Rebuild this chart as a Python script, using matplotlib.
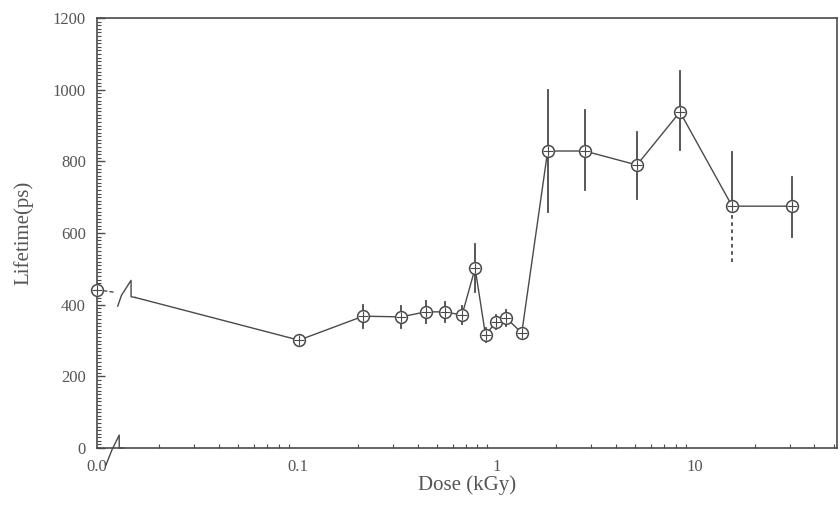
import numpy as np
import matplotlib.pyplot as plt
from matplotlib.ticker import FixedLocator, MultipleLocator, LogLocator, NullFormatter

# data
dose = [0.0, 0.101, 0.213, 0.33, 0.44, 0.55, 0.67, 0.78, 0.88, 0.99, 1.12, 1.34,
        1.81, 2.78, 5.1, 8.4, 15.4, 31.0]
lifetime = [442, 301, 368, 366, 380, 380, 371, 502, 315, 351, 363, 321,
            829, 829, 790, 938, 675, 675]
err_lo = [0, 0, 32, 30, 30, 28, 25, 67, 20, 20, 22, 0,
          170, 110, 95, 106, 156, 86]
err_hi = [0, 0, 32, 30, 30, 28, 25, 67, 20, 20, 22, 0,
          170, 115, 92, 114, 151, 82]
dashed_lower = [False] * 16 + [True, False]

xleft, xright = 0.0097, 52.0
ink = '#4a4a4a'
plt.rcParams['font.family'] = ['Liberation Serif', 'DejaVu Serif']

x = np.array([xleft if d == 0 else d for d in dose])
y = np.array(lifetime)
lo = np.array(err_lo)
hi = np.array(err_hi)

fig = plt.figure(figsize=(8.4, 5.13), dpi=100)
ax = fig.add_axes([0.1155, 0.1267, 0.881, 0.838])
ax.set_xscale('log')
ax.set_xlim(xleft, xright)
ax.set_ylim(0, 1200)

# connecting line, with a break between 0.0 and the rest
tr = ax.transAxes
ax.plot([0.0, 0.025], [0.368, 0.362], color=ink, lw=1.0, ls=(0, (3, 1.5)), transform=tr, clip_on=False)
ax.plot([0.028, 0.033, 0.046, 0.046, 0.052], [0.330, 0.355, 0.39, 0.352, 0.350],
        color=ink, lw=1.0, transform=tr, clip_on=False)
bx, by = ax.transData.inverted().transform(tr.transform((0.052, 0.350)))
ax.plot(np.r_[bx, x[1:]], np.r_[by, y[1:]], color=ink, lw=1.0)

# error bars
for xi, yi, l, h, dsh in zip(x, y, lo, hi, dashed_lower):
    if l == 0 and h == 0:
        continue
    ax.plot([xi, xi], [yi, yi + h], color=ink, lw=1.3)
    ax.plot([xi, xi], [yi - l, yi], color=ink, lw=1.3, ls=(0, (2, 2)) if dsh else '-')

ax.plot(x, y, ls='none', marker='o', ms=8.5, mfc='white', mec=ink, mew=1.1, clip_on=False, zorder=5)
ax.plot(x, y, ls='none', marker='+', ms=7.5, mec=ink, mew=0.8, clip_on=False, zorder=6)

# axis break on the x axis
ax.plot([0.012, 0.020, 0.030, 0.030, 0.036], [-0.04, -0.005, 0.03, 0.0, 0.0],
        color=ink, lw=1.0, transform=tr, clip_on=False)

# ticks
ax.xaxis.set_major_locator(FixedLocator([xleft, 0.1, 1, 10]))
ax.set_xticklabels(['0.0', '0.1', '1', '10'])
ax.xaxis.set_minor_locator(LogLocator(base=10, subs=np.arange(2, 10)))
ax.xaxis.set_minor_formatter(NullFormatter())
ax.yaxis.set_major_locator(MultipleLocator(200))
ax.yaxis.set_minor_locator(MultipleLocator(10))
ax.tick_params(which='both', direction='in', color=ink, labelcolor='#555555', labelsize=12)
ax.tick_params(which='major', length=6, width=1)
ax.tick_params(which='minor', length=3, width=0.8)
ax.tick_params(axis='y', which='major', pad=8)
ax.tick_params(axis='x', which='major', pad=8, length=0)

for s in ax.spines.values():
    s.set_color(ink)
    s.set_linewidth(1.2)

ax.set_xlabel('Dose (kGy)', fontsize=15, color='#555555', labelpad=0)
ax.set_ylabel('Lifetime(ps)', fontsize=15, color='#555555', labelpad=14)

fig.savefig('out.png', dpi=100)
